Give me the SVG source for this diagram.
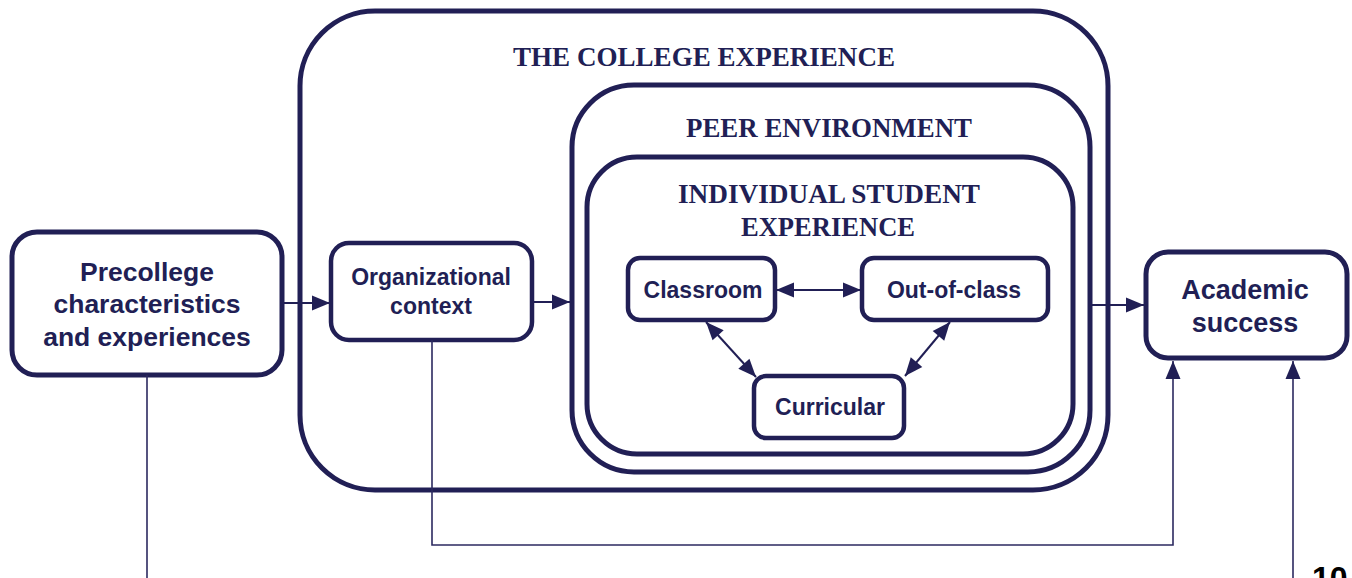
<svg xmlns="http://www.w3.org/2000/svg" width="1352" height="578" viewBox="0 0 1352 578">
<style>
.big{fill:#ffffff;stroke:#211f55;stroke-width:5}
.box{fill:#ffffff;stroke:#211f55;stroke-width:4.5}
.ttl{font-family:"Liberation Serif","Times New Roman",serif;font-weight:bold;fill:#211f55;text-anchor:middle}
.lbl{font-family:"Liberation Sans",Arial,sans-serif;font-weight:bold;fill:#211f55;text-anchor:middle}
.con{fill:none;stroke:#211f55;stroke-width:2}
.thin{fill:none;stroke:#2c2a60;stroke-width:1.6}
</style>
<defs>
<marker id="ah" markerUnits="userSpaceOnUse" markerWidth="20" markerHeight="20" viewBox="0 0 20 20" refX="19" refY="10" orient="auto-start-reverse">
<path d="M1,2.5 L19,10 L1,17.5 Z" fill="#211f55"/>
</marker>
</defs>
<rect width="1352" height="578" fill="#ffffff"/>
<g id="college">
<rect class="big" x="300" y="11" width="808" height="479" rx="75" ry="75"/>
<text class="ttl" x="704" y="66" font-size="27" textLength="382" lengthAdjust="spacingAndGlyphs">THE COLLEGE EXPERIENCE</text>
</g>
<g id="peer">
<rect class="big" x="572" y="85" width="518" height="387" rx="62" ry="62"/>
<text class="ttl" x="829" y="137" font-size="27" textLength="286" lengthAdjust="spacingAndGlyphs">PEER ENVIRONMENT</text>
</g>
<g id="individual">
<rect class="big" x="587" y="157" width="486" height="297" rx="50" ry="50"/>
<text class="ttl" x="829" y="203" font-size="27" textLength="302" lengthAdjust="spacingAndGlyphs">INDIVIDUAL STUDENT</text>
<text class="ttl" x="828" y="236" font-size="27" textLength="174" lengthAdjust="spacingAndGlyphs">EXPERIENCE</text>
</g>
<g id="precollege">
<rect class="big" x="12" y="232" width="270" height="143" rx="25" ry="25"/>
<text class="lbl" x="147" y="281" font-size="26.5">Precollege</text>
<text class="lbl" x="147" y="313" font-size="26.5">characteristics</text>
<text class="lbl" x="147" y="346" font-size="26.5">and experiences</text>
</g>
<g id="org">
<rect class="box" x="331" y="243" width="201" height="97" rx="18" ry="18"/>
<text class="lbl" x="431" y="285" font-size="23">Organizational</text>
<text class="lbl" x="431" y="314" font-size="23">context</text>
</g>
<g id="classroom">
<rect class="box" x="628" y="258" width="147" height="62" rx="12" ry="12"/>
<text class="lbl" x="703" y="298" font-size="23">Classroom</text>
</g>
<g id="outofclass">
<rect class="box" x="862" y="258" width="186" height="62" rx="12" ry="12"/>
<text class="lbl" x="954" y="298" font-size="23">Out-of-class</text>
</g>
<g id="curricular">
<rect class="box" x="754" y="376" width="150" height="62" rx="12" ry="12"/>
<text class="lbl" x="830" y="415" font-size="23">Curricular</text>
</g>
<g id="academic">
<rect class="big" x="1146" y="252" width="201" height="106" rx="22" ry="22"/>
<text class="lbl" x="1245" y="299" font-size="27">Academic</text>
<text class="lbl" x="1245" y="332" font-size="27">success</text>
</g>
<g id="connectors">
<path class="con" d="M282,303 L330,303" marker-end="url(#ah)"/>
<path class="con" d="M532,302 L570,302" marker-end="url(#ah)"/>
<path class="con" d="M1090,305 L1144,305" marker-end="url(#ah)"/>
<path class="thin" d="M432,340 L432,545 L1173,545 L1173,361" marker-end="url(#ah)"/>
<path class="thin" d="M147,375 L147,600 L1293,600 L1293,361" marker-end="url(#ah)"/>
<path class="con" d="M776,290 L861,290" marker-start="url(#ah)" marker-end="url(#ah)"/>
<path class="con" d="M706,322 L756,377" marker-start="url(#ah)" marker-end="url(#ah)"/>
<path class="con" d="M950,322 L905,376" marker-start="url(#ah)" marker-end="url(#ah)"/>
</g>
<text x="1312" y="589" font-family="Liberation Sans,Arial,sans-serif" font-weight="bold" font-size="32" fill="#000000">10</text>
</svg>
